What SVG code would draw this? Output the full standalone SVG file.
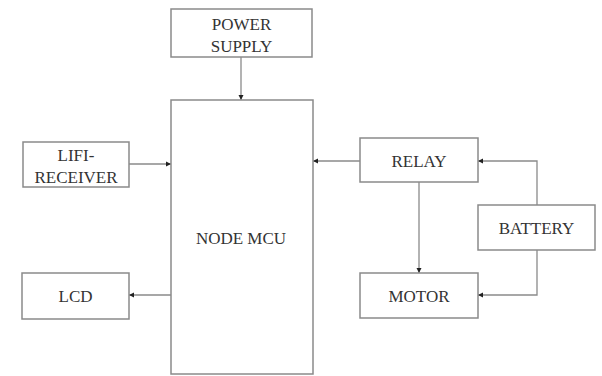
<svg xmlns="http://www.w3.org/2000/svg" width="602" height="376" viewBox="0 0 602 376">
<style>
.box{fill:#fff;stroke:#8a8a8a;stroke-width:1.5}
.t{font-family:"Liberation Serif","Times New Roman",serif;font-size:17px;fill:#333;text-anchor:middle}
.c{fill:none;stroke:#8a8a8a;stroke-width:1.3}
</style>
<defs>
<marker id="a" markerWidth="6" markerHeight="6" refX="5" refY="3" orient="auto" markerUnits="userSpaceOnUse">
<path d="M0,0.5 L5,3 L0,5.5 Z" fill="#222"/>
</marker>
</defs>
<rect width="602" height="376" fill="#fff"/>
<g id="connectors">
<path class="c" d="M241,57 V100" marker-end="url(#a)"/>
<path class="c" d="M129,164 H171" marker-end="url(#a)"/>
<path class="c" d="M171,295 H129" marker-end="url(#a)"/>
<path class="c" d="M360,161 H313" marker-end="url(#a)"/>
<path class="c" d="M537,205 V161 H478" marker-end="url(#a)"/>
<path class="c" d="M419,182 V273" marker-end="url(#a)"/>
<path class="c" d="M537,250 V295 H478" marker-end="url(#a)"/>
</g>
<g id="power">
<rect class="box" x="171" y="9" width="141" height="48"/>
<text class="t" x="241.5" y="30">POWER</text>
<text class="t" x="241.5" y="52">SUPPLY</text>
</g>
<g id="nodemcu">
<rect class="box" x="171" y="100" width="142" height="274"/>
<text class="t" x="241" y="244">NODE MCU</text>
</g>
<g id="lifi">
<rect class="box" x="23" y="142" width="106" height="45"/>
<text class="t" x="76" y="161">LIFI-</text>
<text class="t" x="76" y="183">RECEIVER</text>
</g>
<g id="lcd">
<rect class="box" x="22" y="273" width="107" height="46"/>
<text class="t" x="75.5" y="302">LCD</text>
</g>
<g id="relay">
<rect class="box" x="360" y="138" width="118" height="44"/>
<text class="t" x="419" y="167">RELAY</text>
</g>
<g id="battery">
<rect class="box" x="478" y="205" width="117" height="45"/>
<text class="t" x="536.5" y="234">BATTERY</text>
</g>
<g id="motor">
<rect class="box" x="360" y="273" width="118" height="45"/>
<text class="t" x="419" y="302">MOTOR</text>
</g>
</svg>
